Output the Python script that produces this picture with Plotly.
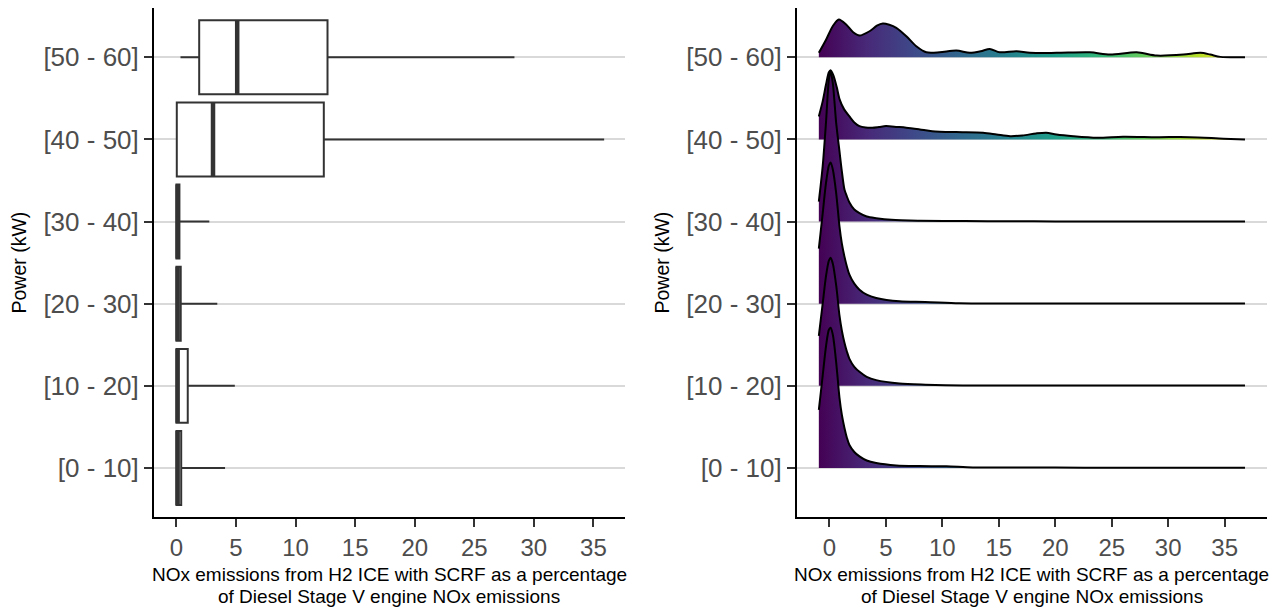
import plotly.graph_objects as go

# ---------------- data ----------------
categories = ["[0 - 10]", "[10 - 20]", "[20 - 30]", "[30 - 40]", "[40 - 50]", "[50 - 60]"]
positions = [1, 2, 3, 4, 5, 6]
x_ticks = [0, 5, 10, 15, 20, 25, 30, 35]

# boxplot statistics (NOx %)
box_lower = [0.0, 0.0, 0.0, 0.0, 0.03, 0.34]
box_q1 = [0.0, 0.0, 0.0, 0.0, 0.03, 1.91]
box_median = [0.1, 0.1, 0.1, 0.1, 3.07, 5.1]
box_q3 = [0.4, 0.95, 0.36, 0.25, 12.37, 12.68]
box_upper = [4.08, 4.9, 3.43, 2.76, 35.9, 28.37]

# ridgeline densities (height in units of row spacing)
ridge_x_0_10 = [-0.94, -0.6, -0.3, -0.05, 0.1, 0.3, 0.6, 0.89, 1.1, 1.33, 1.55, 1.77, 2.2, 2.66, 3.3, 4.14, 5.92, 8.0, 10.35, 12.7, 16, 20, 25, 30, 36.8]
ridge_h_0_10 = [0.707, 1.122, 1.488, 1.683, 1.707, 1.622, 1.280, 0.854, 0.646, 0.488, 0.366, 0.280, 0.195, 0.141, 0.091, 0.061, 0.032, 0.024, 0.020, 0.007, 0.006, 0.005, 0.004, 0.004, 0.004]

ridge_x_10_20 = [-0.94, -0.6, -0.3, -0.05, 0.1, 0.3, 0.6, 0.89, 1.1, 1.33, 1.55, 1.77, 2.2, 2.66, 3.3, 4.14, 6.2, 8.5, 11.8, 16, 20, 25, 30, 36.8]
ridge_h_10_20 = [0.610, 1.000, 1.341, 1.524, 1.561, 1.488, 1.220, 0.854, 0.671, 0.524, 0.415, 0.329, 0.232, 0.171, 0.110, 0.070, 0.029, 0.015, 0.005, 0.004, 0.004, 0.004, 0.004, 0.004]

ridge_x_20_30 = [-0.94, -0.6, -0.3, -0.05, 0.1, 0.3, 0.6, 0.89, 1.1, 1.33, 1.55, 1.77, 2.2, 2.66, 3.3, 4.14, 6.2, 8.5, 11.5, 16, 20, 25, 30, 36.8]
ridge_h_20_30 = [0.671, 1.098, 1.476, 1.683, 1.720, 1.634, 1.341, 0.939, 0.732, 0.573, 0.451, 0.354, 0.244, 0.171, 0.110, 0.070, 0.029, 0.022, 0.006, 0.004, 0.004, 0.004, 0.004, 0.004]

ridge_x_30_40 = [-0.94, -0.6, -0.3, -0.05, 0.1, 0.3, 0.6, 0.89, 1.1, 1.33, 1.55, 1.77, 2.2, 2.66, 3.3, 4.14, 5.5, 8.0, 12.0, 16, 20, 25, 30, 36.8]
ridge_h_30_40 = [0.244, 0.671, 1.220, 1.732, 1.829, 1.683, 1.195, 0.854, 0.610, 0.390, 0.305, 0.232, 0.146, 0.102, 0.061, 0.041, 0.021, 0.011, 0.006, 0.004, 0.002, 0.002, 0.002, 0.002]

ridge_x_40_50 = [-0.94, -0.6, -0.3, -0.05, 0.1, 0.35, 0.65, 0.9, 1.3, 1.77, 2.2, 2.66, 3.2, 3.8, 4.4, 5.0, 6.0, 6.8, 8.0, 9.1, 11.2, 13.6, 14.8, 16.0, 17.1, 18.3, 19.2, 20.1, 21.6, 23.7, 26.0, 29.0, 31.9, 34.9, 36.8]
ridge_h_40_50 = [0.280, 0.463, 0.671, 0.817, 0.841, 0.780, 0.634, 0.488, 0.366, 0.280, 0.207, 0.162, 0.146, 0.143, 0.152, 0.162, 0.152, 0.143, 0.122, 0.101, 0.089, 0.082, 0.061, 0.040, 0.049, 0.073, 0.082, 0.061, 0.040, 0.021, 0.033, 0.028, 0.028, 0.009, 0.0]

ridge_x_50_60 = [-0.94, -0.29, 0.29, 0.83, 1.48, 2.1, 2.66, 3.55, 4.2, 4.73, 5.3, 5.92, 6.81, 7.69, 8.58, 9.76, 11.24, 12.42, 13.4, 14.2, 15.08, 16.57, 17.75, 20.12, 23.07, 24.84, 27.21, 28.99, 31.35, 32.86, 33.73, 34.62, 36.8]
ridge_h_50_60 = [0.054, 0.216, 0.378, 0.460, 0.399, 0.305, 0.265, 0.317, 0.384, 0.411, 0.396, 0.359, 0.256, 0.134, 0.061, 0.061, 0.082, 0.054, 0.073, 0.102, 0.061, 0.073, 0.054, 0.054, 0.061, 0.033, 0.061, 0.021, 0.033, 0.054, 0.033, 0.005, 0.0]

ridge_x = [ridge_x_0_10, ridge_x_10_20, ridge_x_20_30, ridge_x_30_40, ridge_x_40_50, ridge_x_50_60]
ridge_h = [ridge_h_0_10, ridge_h_10_20, ridge_h_20_30, ridge_h_30_40, ridge_h_40_50, ridge_h_50_60]

x_title_1 = "NOx emissions from H2 ICE with SCRF as a percentage"
x_title_2 = "of Diesel Stage V engine NOx emissions"
y_title = "Power (kW)"

# ---------------- styling ----------------
FONT = "Liberation Sans, Arial, sans-serif"
TICK_GREY = "#4D4D4D"
BOX_LINE = "#333333"
GRID = "#D9D9D9"
OFF = 8                    # default page body margin
W, H = 1284 - OFF, 607 - OFF


def fx(px):  # page pixel -> paper fraction (x)
    return (px - OFF) / W


def fy(py):  # page pixel -> paper fraction (y)
    return 1 - (py - OFF) / H


fig = go.Figure()

# left: boxplots
fig.add_trace(go.Box(
    y=positions, q1=box_q1, median=box_median, q3=box_q3,
    lowerfence=box_lower, upperfence=box_upper,
    orientation="h", width=0.9, whiskerwidth=0,
    fillcolor="white", line=dict(color=BOX_LINE, width=2),
    boxpoints=False, showlegend=False, hoverinfo="skip",
    xaxis="x", yaxis="y",
))

# thick median bars
mx, my = [], []
for p, m in zip(positions, box_median):
    mx += [m, m, None]
    my += [p - 0.45, p + 0.45, None]
fig.add_trace(go.Scatter(x=mx, y=my, mode="lines",
                         line=dict(color=BOX_LINE, width=4.5),
                         showlegend=False, hoverinfo="skip",
                         xaxis="x", yaxis="y"))

# right: ridgelines, drawn from top row to bottom row
xmin = min(min(r) for r in ridge_x)
xmax = max(max(r) for r in ridge_x)
for k in reversed(range(len(categories))):
    base = positions[k]
    xs = ridge_x[k]
    fig.add_trace(go.Scatter(x=[xs[0], xs[-1]], y=[base, base], mode="lines",
                             line=dict(width=0, color="rgba(0,0,0,0)"),
                             showlegend=False, hoverinfo="skip",
                             xaxis="x2", yaxis="y2"))
    fig.add_trace(go.Scatter(
        x=xs, y=[base + h for h in ridge_h[k]], mode="lines",
        fill="tonexty",
        fillgradient=dict(type="horizontal", colorscale="Viridis",
                          start=xmin, stop=xmax),
        line=dict(color="black", width=2, shape="spline", smoothing=0.8),
        showlegend=False, hoverinfo="skip",
        xaxis="x2", yaxis="y2"))

# ---------------- layout ----------------
left_dom = [fx(153.8), fx(625)]
right_dom = [fx(796.7), fx(1267)]
y_dom = [fy(517.3), fy(8)]


def xaxis_style(dom, rng, anchor):
    return dict(domain=dom, range=rng, anchor=anchor,
                tickvals=x_ticks, ticktext=[str(t) for t in x_ticks],
                showline=True, linecolor="black", linewidth=1.6,
                ticks="outside", ticklen=8, tickwidth=1.5, tickcolor=BOX_LINE,
                tickfont=dict(family=FONT, size=24, color=TICK_GREY),
                ticklabelstandoff=0,
                showgrid=False, zeroline=False, automargin=False)


def yaxis_style(anchor):
    return dict(domain=y_dom, range=[0.4, 6.6], anchor=anchor,
                tickvals=positions, ticktext=categories,
                showline=True, linecolor="black", linewidth=1.6,
                ticks="outside", ticklen=8, tickwidth=1.5, tickcolor=BOX_LINE,
                tickfont=dict(family=FONT, size=26, color=TICK_GREY),
                ticklabelstandoff=0,
                showgrid=True, gridcolor=GRID, gridwidth=1.8,
                zeroline=False, automargin=False)


annotations = []
for dom in (left_dom, right_dom):
    cx = (dom[0] + dom[1]) / 2
    annotations.append(dict(text=x_title_1, x=cx, y=fy(574), xref="paper", yref="paper",
                            xanchor="center", yanchor="middle", showarrow=False,
                            font=dict(family=FONT, size=19, color="black")))
    annotations.append(dict(text=x_title_2, x=cx, y=fy(596), xref="paper", yref="paper",
                            xanchor="center", yanchor="middle", showarrow=False,
                            font=dict(family=FONT, size=19, color="black")))
for px in (18, 661):
    annotations.append(dict(text=y_title, x=fx(px), y=fy(262.5), xref="paper", yref="paper",
                            xanchor="center", yanchor="middle", showarrow=False, textangle=-90,
                            font=dict(family=FONT, size=19.5, color="black")))

fig.update_layout(
    width=W, height=H,
    margin=dict(l=0, r=0, t=0, b=0),
    paper_bgcolor="white", plot_bgcolor="white",
    showlegend=False,
    xaxis=xaxis_style(left_dom, [-1.9, 37.65], "y"),
    yaxis=yaxis_style("x"),
    xaxis2=xaxis_style(right_dom, [-2.9, 38.75], "y2"),
    yaxis2=yaxis_style("x2"),
    annotations=annotations,
)

fig.write_html("out.html")
